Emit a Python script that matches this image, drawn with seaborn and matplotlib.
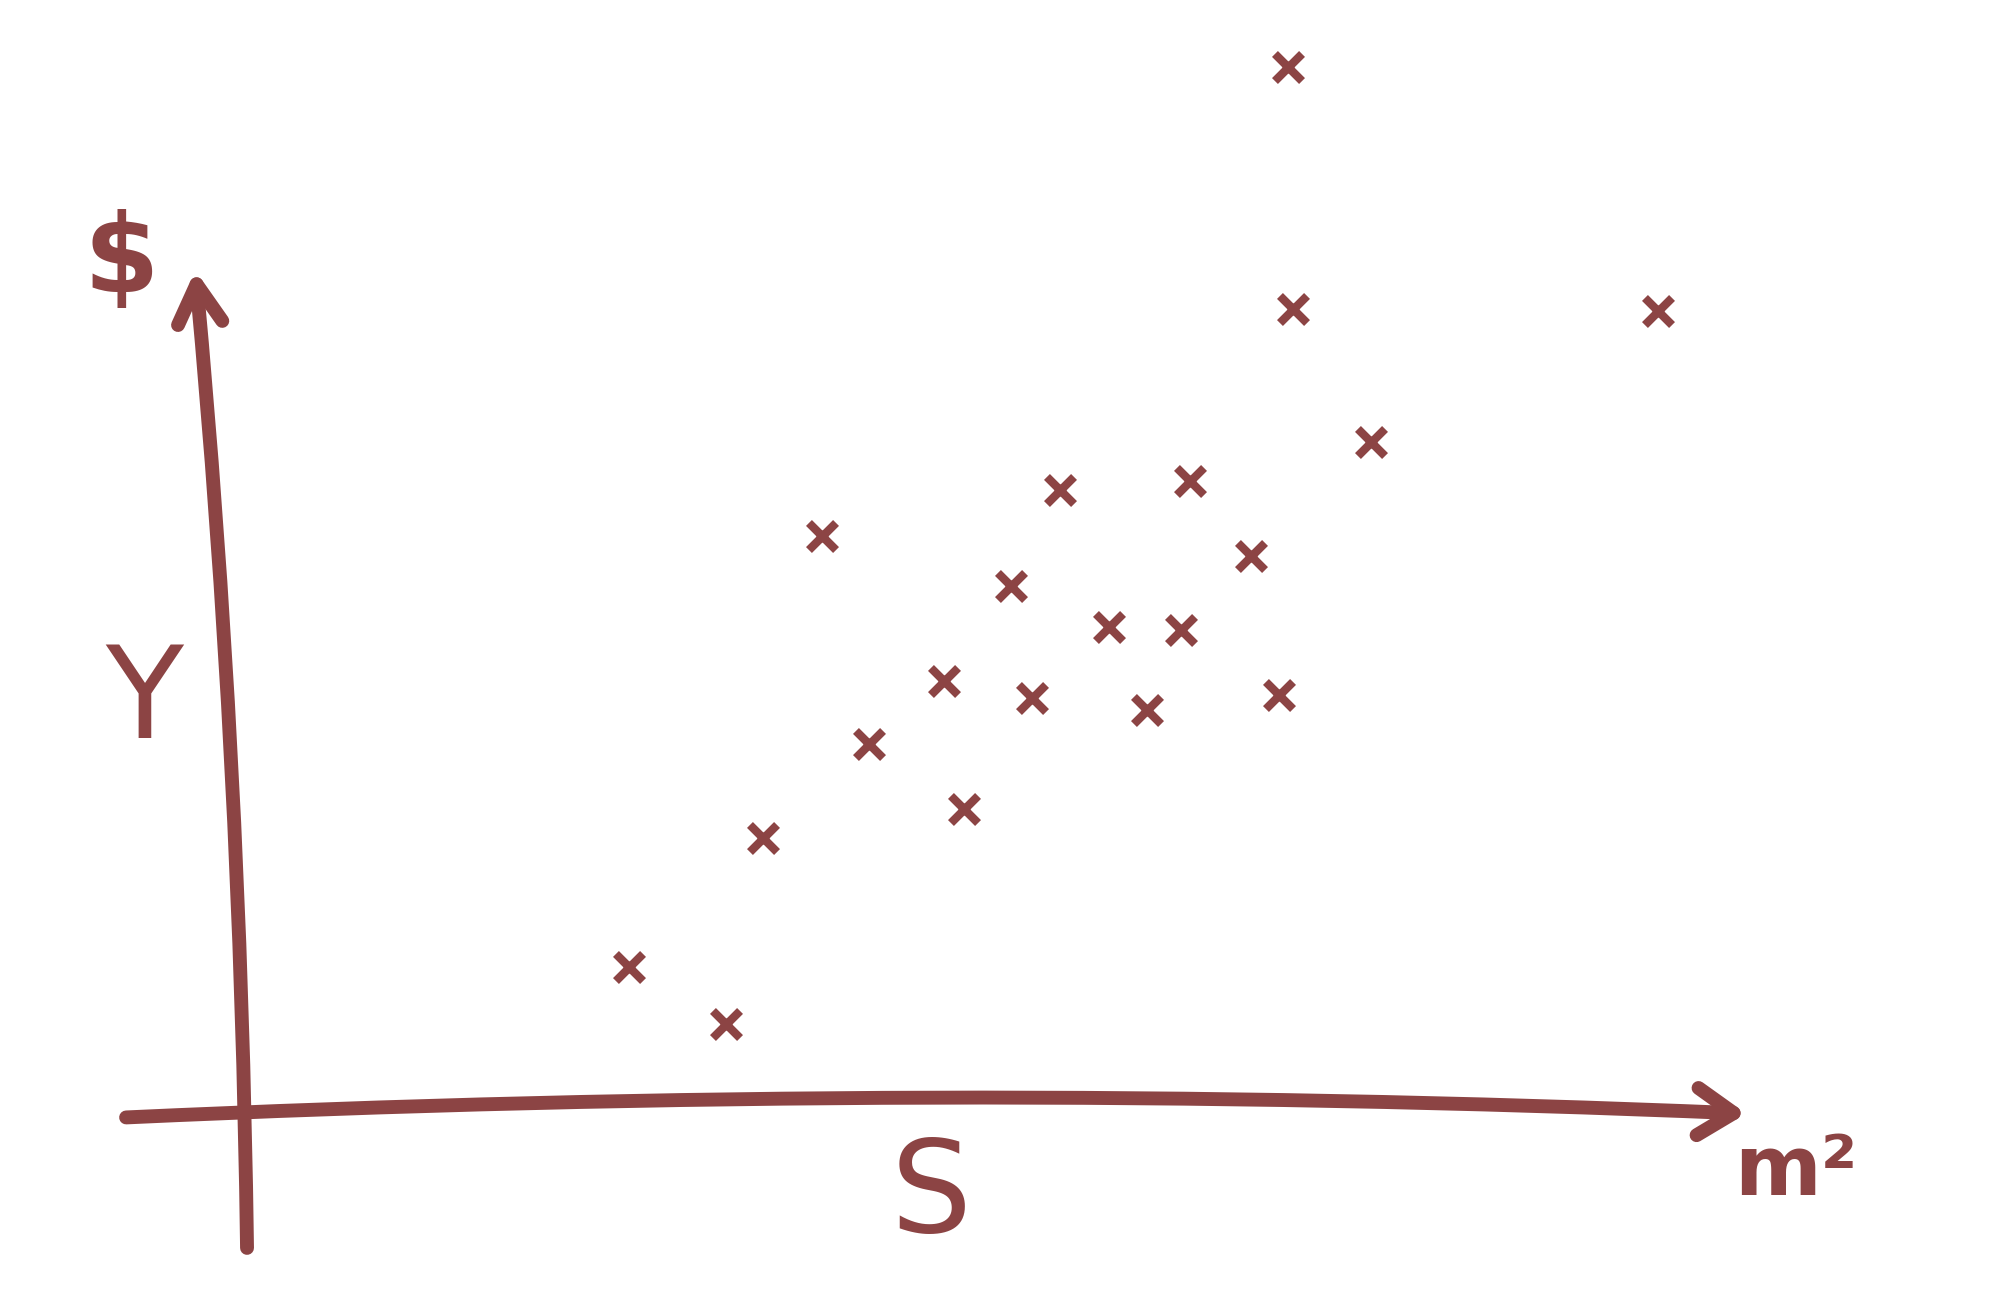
import matplotlib
matplotlib.use("Agg")
import matplotlib.pyplot as plt
import seaborn as sns
import pandas as pd

# hand-sketched house prices: surface (m2) vs price (k$)
area = [123.5, 124.0, 166.8, 133.2, 96.8, 112.0, 68.9, 119.1, 91.0, 102.5,
        110.9, 83.2, 93.5, 107.0, 122.4, 74.4, 85.5, 62.0, 46.2, 57.6]
price = [410.5, 316.0, 315.0, 264.0, 245.0, 248.5, 227.0, 219.5, 207.5, 191.5,
         190.5, 170.5, 164.0, 159.0, 165.0, 146.0, 120.5, 109.0, 59.0, 36.5]

ink = "#8c4444"

sns.set_style("white")
plt.rcParams["font.family"] = ["DejaVu Sans"]

df = pd.DataFrame({"area": area, "price": price})

fig = plt.figure(figsize=(20, 13.06), dpi=100)
ax = fig.add_axes([0, 0, 1, 1])

sns.scatterplot(data=df, x="area", y="price", marker="x", s=380,
                linewidth=6, color=ink, ax=ax, legend=False)

# hand drawn axes
ax.annotate("", xy=(177.5, 1.5), xytext=(-13, 0),
            arrowprops=dict(arrowstyle="->,head_length=2.6,head_width=1.7",
                            lw=10, color=ink, capstyle="round",
                            joinstyle="round",
                            connectionstyle="arc3,rad=-0.022"))
ax.annotate("", xy=(-4.6, 332), xytext=(1.5, -52),
            arrowprops=dict(arrowstyle="->,head_length=2.8,head_width=1.6",
                            lw=10, color=ink, capstyle="round",
                            joinstyle="round",
                            connectionstyle="arc3,rad=0.02"))

ax.text(-13.2, 334, "$", color=ink, fontsize=78, fontweight="bold",
        ha="center", va="center")
ax.text(-10.6, 162, "Y", color=ink, fontsize=92, fontweight="normal",
        ha="center", va="center")
ax.text(81.6, -31, "S", color=ink, fontsize=92, ha="center", va="center")
ax.text(183.0, -21, "m²", color=ink, fontsize=60, fontweight="bold",
        ha="center", va="center")

ax.set_xlim(-27.45, 206.9)
ax.set_ylim(-73.6, 436.5)
ax.set_axis_off()

fig.savefig("out.png", dpi=100, facecolor="white")
